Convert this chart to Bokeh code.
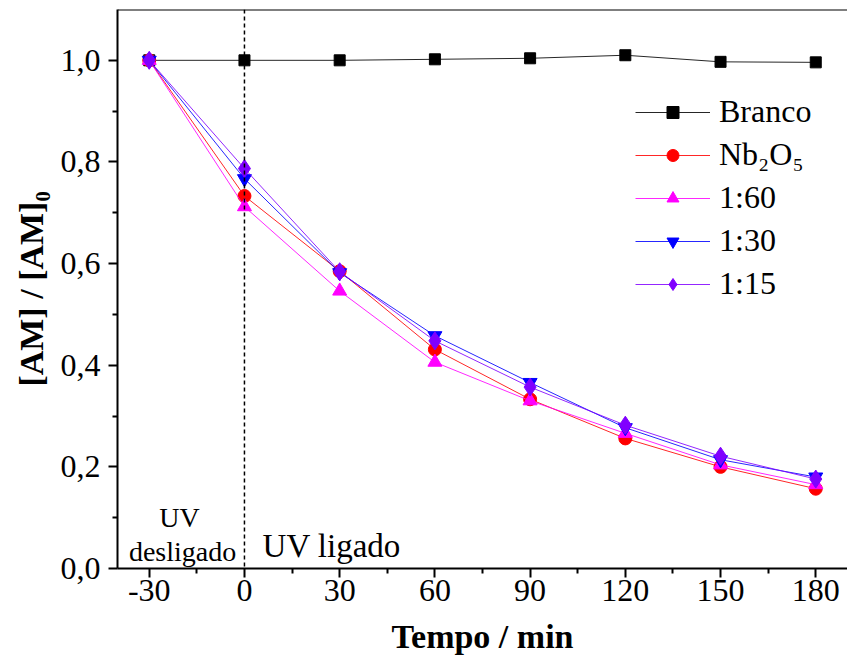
import numpy as np
from bokeh.plotting import figure
from bokeh.models import (FixedTicker, CustomJSTickFormatter, Span, Label,
                          Legend, LegendItem, Range1d)
from bokeh.embed import file_html
from bokeh.resources import INLINE

# ---- data ----
tempo = [-30, 0, 30, 60, 90, 120, 150, 180]
branco = [1.0, 1.0, 1.0, 1.002, 1.004, 1.010, 0.997, 0.996]
nb2o5 = [1.0, 0.733, 0.585, 0.431, 0.333, 0.256, 0.200, 0.157]
r1_60 = [1.0, 0.712, 0.546, 0.406, 0.330, 0.266, 0.204, 0.165]
r1_30 = [1.0, 0.767, 0.582, 0.458, 0.366, 0.277, 0.214, 0.180]
r1_15 = [1.0, 0.787, 0.584, 0.448, 0.357, 0.282, 0.221, 0.176]

series_names = ["Branco", "Nb\u2082O\u2085", "1:60", "1:30", "1:15"]
series_values = [branco, nb2o5, r1_60, r1_30, r1_15]
series_colors = ["#000000", "#FF0000", "#FF00FF", "#0000FF", "#8000FF"]
series_markers = ["square", "circle", "triangle", "inverted_triangle", "diamond"]
series_sizes = [11, 13, 14, 14, 18]

x_ticks = [-30, 0, 30, 60, 90, 120, 150, 180]
x_minor = [-15, 15, 45, 75, 105, 135, 165]
y_ticks = [0.0, 0.2, 0.4, 0.6, 0.8, 1.0]
y_minor = [0.1, 0.3, 0.5, 0.7, 0.9]

SERIF = "Liberation Serif"

p = figure(width=847, height=660, output_backend="svg", toolbar_location=None,
           x_range=Range1d(-40, 190), y_range=Range1d(0, 1.1),
           min_border_left=117, min_border_right=0, min_border_top=9,
           min_border_bottom=92, background_fill_color="white",
           border_fill_color="white")
p.grid.visible = False
p.outline_line_color = None

for ax in (p.xaxis[0], p.yaxis[0]):
    ax.axis_line_width = 2
    ax.major_tick_line_width = 2
    ax.minor_tick_line_width = 2
    ax.major_tick_in = 0
    ax.minor_tick_in = 0
    ax.major_tick_out = 9
    ax.minor_tick_out = 5
    ax.major_label_text_font = SERIF
    ax.major_label_text_font_size = "32px"
    ax.major_label_text_color = "black"
    ax.axis_label_text_font = SERIF
    ax.axis_label_text_font_style = "bold"
    ax.axis_label_text_font_size = "34px"
    ax.axis_label_text_color = "black"

p.xaxis.ticker = FixedTicker(ticks=x_ticks, minor_ticks=x_minor)
p.yaxis.ticker = FixedTicker(ticks=y_ticks, minor_ticks=y_minor)
p.xaxis.formatter = CustomJSTickFormatter(code="return String(tick);")
p.yaxis.formatter = CustomJSTickFormatter(
    code="return tick.toFixed(1).replace('.', ',');")
p.xaxis.axis_label = "Tempo / min"
p.yaxis.axis_label = "[AM] / [AM]\u2080"
p.xaxis.major_label_standoff = 2
p.yaxis.major_label_standoff = 8
p.xaxis.axis_label_standoff = 14
p.yaxis.axis_label_standoff = 8

# top frame line
p.add_layout(Span(location=1.1, dimension="width", line_color="black",
                  line_width=2))
# UV on/off marker
p.add_layout(Span(location=0, dimension="height", line_color="black",
                  line_width=1.5, line_dash="4 3"))

items = []
for name, vals, col, mk, sz in zip(series_names, series_values,
                                   series_colors, series_markers,
                                   series_sizes):
    lr = p.line(tempo, vals, line_color=col, line_width=1, line_alpha=0.85)
    sr = p.scatter(tempo, vals, marker=mk, size=sz,
                   fill_color=col, line_color=col)
    items.append(LegendItem(label=name, renderers=[lr, sr]))

legend = Legend(items=items, location=(518, 263), padding=0, margin=0,
                border_line_color=None, background_fill_alpha=0,
                label_text_font=SERIF, label_text_font_size="32px",
                label_text_color="black", glyph_width=75, glyph_height=30,
                label_height=43, spacing=0, label_standoff=9)
p.add_layout(legend)

p.add_layout(Label(x=-20.5, y=0.1, text="UV", text_font=SERIF,
                   text_font_size="28px", text_align="center",
                   text_baseline="alphabetic", text_color="black"))
p.add_layout(Label(x=-19.5, y=0.034, text="desligado", text_font=SERIF,
                   text_font_size="28px", text_align="center",
                   text_baseline="alphabetic", text_color="black"))
p.add_layout(Label(x=5.7, y=0.045, text="UV ligado", text_font=SERIF,
                   text_font_size="33px", text_align="left",
                   text_baseline="alphabetic", text_color="black"))

open("out.html", "w").write(file_html(p, INLINE))
